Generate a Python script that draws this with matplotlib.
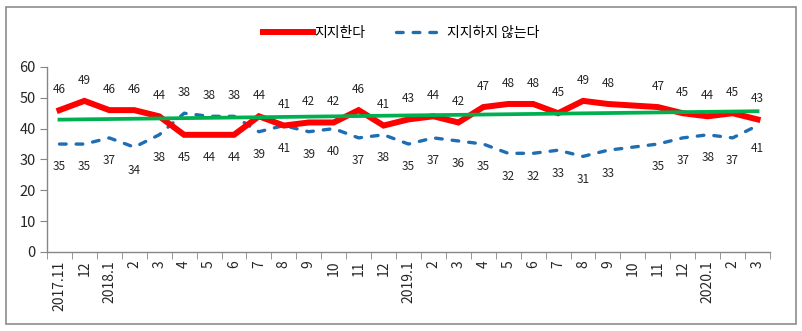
import numpy as np
import matplotlib.pyplot as plt
from matplotlib.patches import Rectangle

plt.rcParams['font.family'] = ['Noto Sans CJK KR', 'DejaVu Sans']

# monthly poll, 2017.11 - 2020.3 (no survey in 2019.10)
months = ["2017.11", "12", "2018.1", "2", "3", "4", "5", "6", "7", "8", "9", "10", "11", "12",
          "2019.1", "2", "3", "4", "5", "6", "7", "8", "9", "10", "11", "12",
          "2020.1", "2", "3"]
support = [46, 49, 46, 46, 44, 38, 38, 38, 44, 41, 42, 42, 46, 41,
           43, 44, 42, 47, 48, 48, 45, 49, 48, np.nan, 47, 45,
           44, 45, 43]
oppose = [35, 35, 37, 34, 38, 45, 44, 44, 39, 41, 39, 40, 37, 38,
          35, 37, 36, 35, 32, 32, 33, 31, 33, np.nan, 35, 37,
          38, 37, 41]

x = np.arange(len(months))
sup = np.array(support, dtype=float)
opp = np.array(oppose, dtype=float)
ok = ~np.isnan(sup)

fig = plt.figure(figsize=(8.02, 3.31), dpi=100)
ax = fig.add_axes([0.0586, 0.2387, 0.9015, 0.559])

red, blue, green = '#FF0000', '#1F6EB4', '#00B050'
ax.plot(x[ok], sup[ok], color=red, lw=4.3, solid_joinstyle='miter', label='지지한다', zorder=3)
ax.plot(x[ok], opp[ok], color=blue, lw=2.4, dashes=(2.0, 3.0), dash_capstyle='round',
        label='지지하지 않는다', zorder=2)

# linear trend of the support series
k, b = np.polyfit(x[ok], sup[ok], 1)
ax.plot(x, k * x + b, color=green, lw=2.7, zorder=4)

for xi, s, o in zip(x[ok], sup[ok], opp[ok]):
    ax.annotate(f"{int(s)}", (xi, max(s, o)), xytext=(0, 15), textcoords='offset points',
                ha='center', va='center', fontsize=8.5, color='#262626')
    ax.annotate(f"{int(o)}", (xi, min(s, o)), xytext=(0, -16.5), textcoords='offset points',
                ha='center', va='center', fontsize=8.5, color='#262626')

ax.set_ylim(0, 60)
ax.set_yticks(range(0, 61, 10))
ax.set_xlim(-0.5, len(months) - 0.5)
ax.set_xticks(x)
ax.set_xticklabels(months, rotation=90)
ax.set_xticks(np.arange(-0.5, len(months)), minor=True)
ax.tick_params(axis='x', which='major', length=0, pad=6, labelsize=10, labelcolor='#262626')
ax.tick_params(axis='x', which='minor', length=5, color='#868686', direction='out')
ax.tick_params(axis='y', length=5, color='#868686', labelsize=10.5, labelcolor='#262626', pad=3)

for side in ['top', 'right']:
    ax.spines[side].set_visible(False)
for side in ['left', 'bottom']:
    ax.spines[side].set_color('#868686')
    ax.spines[side].set_linewidth(1.0)

handles = ax.get_lines()[:2]
fig.legend(handles, ['지지한다', '지지하지 않는다'], loc='center', bbox_to_anchor=(0.5, 0.9),
           ncol=2, frameon=False, fontsize=10, handlelength=3.6, columnspacing=2.2,
           handletextpad=0.1)

fig.patches.append(Rectangle((6 / 802, 7 / 331), 790 / 802, 317 / 331, transform=fig.transFigure,
                             fill=False, edgecolor='#8c8c8c', lw=1.2))

fig.savefig('out.png', dpi=100)
